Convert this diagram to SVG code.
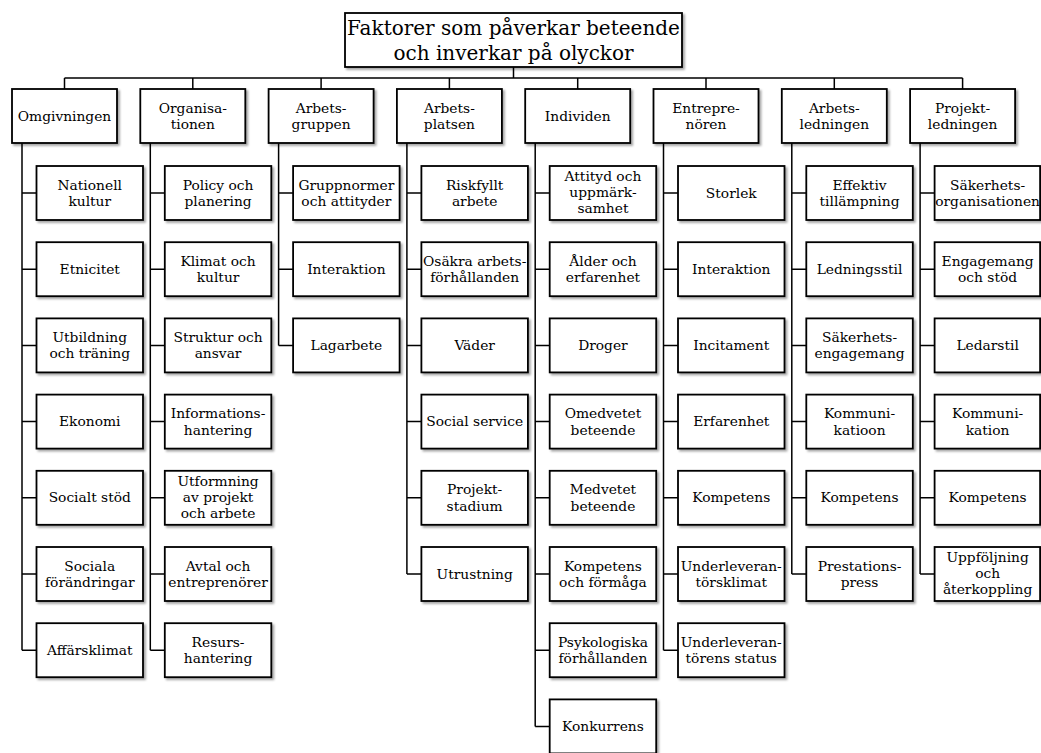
<svg xmlns="http://www.w3.org/2000/svg" width="1041" height="753" viewBox="0 0 1041 753">
<defs>
<filter id="sh" x="-10%" y="-10%" width="125%" height="130%">
<feDropShadow dx="2" dy="2" stdDeviation="1" flood-color="#000" flood-opacity="0.35"/>
</filter>
</defs>
<style>
.b{fill:#fff;stroke:#000;stroke-width:1.8;filter:url(#sh)}
text{font-family:"DejaVu Serif",serif;fill:#000;text-anchor:middle}
.t{font-size:13.8px}
.title{font-size:20px}
.c{fill:none;stroke:#000;stroke-width:1.5}
</style>
<rect width="1041" height="753" fill="#fff"/>
<g id="connectors" class="c">
<path d="M513.5 67V78M64.5 78H962.6M64.5 78V89M192.8 78V89M321.1 78V89M449.4 78V89M577.7 78V89M706 78V89M834.3 78V89M962.6 78V89"/>
<path d="M22 143V650.2M22 193H36.5M22 269.2H36.5M22 345.4H36.5M22 421.6H36.5M22 497.8H36.5M22 574H36.5M22 650.2H36.5"/>
<path d="M150.3 143V650.2M150.3 193H164.8M150.3 269.2H164.8M150.3 345.4H164.8M150.3 421.6H164.8M150.3 497.8H164.8M150.3 574H164.8M150.3 650.2H164.8"/>
<path d="M278.6 143V345.4M278.6 193H293.1M278.6 269.2H293.1M278.6 345.4H293.1"/>
<path d="M406.9 143V574M406.9 193H421.4M406.9 269.2H421.4M406.9 345.4H421.4M406.9 421.6H421.4M406.9 497.8H421.4M406.9 574H421.4"/>
<path d="M535.2 143V726.4M535.2 193H549.7M535.2 269.2H549.7M535.2 345.4H549.7M535.2 421.6H549.7M535.2 497.8H549.7M535.2 574H549.7M535.2 650.2H549.7M535.2 726.4H549.7"/>
<path d="M663.5 143V650.2M663.5 193H678M663.5 269.2H678M663.5 345.4H678M663.5 421.6H678M663.5 497.8H678M663.5 574H678M663.5 650.2H678"/>
<path d="M791.8 143V574M791.8 193H806.3M791.8 269.2H806.3M791.8 345.4H806.3M791.8 421.6H806.3M791.8 497.8H806.3M791.8 574H806.3"/>
<path d="M920.1 143V574M920.1 193H934.6M920.1 269.2H934.6M920.1 345.4H934.6M920.1 421.6H934.6M920.1 497.8H934.6M920.1 574H934.6"/>
</g>
<g id="root"><rect class="b" x="345" y="13" width="337" height="54"/><text class="title" x="513.5"><tspan x="513.5" y="35">Faktorer som påverkar beteende</tspan><tspan x="513.5" y="60">och inverkar på olyckor</tspan></text></g>
<g id="omgivningen"><rect class="b" x="12" y="89" width="105" height="54"/><text class="t" x="64.5" y="120.7">Omgivningen</text></g>
<g id="organisationen"><rect class="b" x="140.3" y="89" width="105" height="54"/><text class="t"><tspan x="192.8" y="112.5">Organisa-</tspan><tspan x="192.8" y="129">tionen</tspan></text></g>
<g id="arbetsgruppen"><rect class="b" x="268.6" y="89" width="105" height="54"/><text class="t"><tspan x="321.1" y="112.5">Arbets-</tspan><tspan x="321.1" y="129">gruppen</tspan></text></g>
<g id="arbetsplatsen"><rect class="b" x="396.9" y="89" width="105" height="54"/><text class="t"><tspan x="449.4" y="112.5">Arbets-</tspan><tspan x="449.4" y="129">platsen</tspan></text></g>
<g id="individen"><rect class="b" x="525.2" y="89" width="105" height="54"/><text class="t" x="577.7" y="120.7">Individen</text></g>
<g id="entreprenoren"><rect class="b" x="653.5" y="89" width="105" height="54"/><text class="t"><tspan x="706" y="112.5">Entrepre-</tspan><tspan x="706" y="129">nören</tspan></text></g>
<g id="arbetsledningen"><rect class="b" x="781.8" y="89" width="105" height="54"/><text class="t"><tspan x="834.3" y="112.5">Arbets-</tspan><tspan x="834.3" y="129">ledningen</tspan></text></g>
<g id="projektledningen"><rect class="b" x="910.1" y="89" width="105" height="54"/><text class="t"><tspan x="962.6" y="112.5">Projekt-</tspan><tspan x="962.6" y="129">ledningen</tspan></text></g>

<g id="c0-0"><rect class="b" x="36.5" y="166" width="106.5" height="54"/><text class="t"><tspan x="89.75" y="189.5">Nationell</tspan><tspan x="89.75" y="206">kultur</tspan></text></g>
<g id="c0-1"><rect class="b" x="36.5" y="242.2" width="106.5" height="54"/><text class="t" x="89.75" y="273.7">Etnicitet</text></g>
<g id="c0-2"><rect class="b" x="36.5" y="318.4" width="106.5" height="54"/><text class="t"><tspan x="89.75" y="341.9">Utbildning</tspan><tspan x="89.75" y="358.4">och träning</tspan></text></g>
<g id="c0-3"><rect class="b" x="36.5" y="394.6" width="106.5" height="54"/><text class="t" x="89.75" y="426.1">Ekonomi</text></g>
<g id="c0-4"><rect class="b" x="36.5" y="470.8" width="106.5" height="54"/><text class="t" x="89.75" y="502.3">Socialt stöd</text></g>
<g id="c0-5"><rect class="b" x="36.5" y="547" width="106.5" height="54"/><text class="t"><tspan x="89.75" y="570.5">Sociala</tspan><tspan x="89.75" y="587">förändringar</tspan></text></g>
<g id="c0-6"><rect class="b" x="36.5" y="623.2" width="106.5" height="54"/><text class="t" x="89.75" y="654.7">Affärsklimat</text></g>

<g id="c1-0"><rect class="b" x="164.8" y="166" width="106.5" height="54"/><text class="t"><tspan x="218.05" y="189.5">Policy och</tspan><tspan x="218.05" y="206">planering</tspan></text></g>
<g id="c1-1"><rect class="b" x="164.8" y="242.2" width="106.5" height="54"/><text class="t"><tspan x="218.05" y="265.7">Klimat och</tspan><tspan x="218.05" y="282.2">kultur</tspan></text></g>
<g id="c1-2"><rect class="b" x="164.8" y="318.4" width="106.5" height="54"/><text class="t"><tspan x="218.05" y="341.9">Struktur och</tspan><tspan x="218.05" y="358.4">ansvar</tspan></text></g>
<g id="c1-3"><rect class="b" x="164.8" y="394.6" width="106.5" height="54"/><text class="t"><tspan x="218.05" y="418.1">Informations-</tspan><tspan x="218.05" y="434.6">hantering</tspan></text></g>
<g id="c1-4"><rect class="b" x="164.8" y="470.8" width="106.5" height="54"/><text class="t"><tspan x="218.05" y="485.8">Utformning</tspan><tspan x="218.05" y="501.8">av projekt</tspan><tspan x="218.05" y="517.8">och arbete</tspan></text></g>
<g id="c1-5"><rect class="b" x="164.8" y="547" width="106.5" height="54"/><text class="t"><tspan x="218.05" y="570.5">Avtal och</tspan><tspan x="218.05" y="587">entreprenörer</tspan></text></g>
<g id="c1-6"><rect class="b" x="164.8" y="623.2" width="106.5" height="54"/><text class="t"><tspan x="218.05" y="646.7">Resurs-</tspan><tspan x="218.05" y="663.2">hantering</tspan></text></g>

<g id="c2-0"><rect class="b" x="293.1" y="166" width="106.5" height="54"/><text class="t"><tspan x="346.35" y="189.5">Gruppnormer</tspan><tspan x="346.35" y="206">och attityder</tspan></text></g>
<g id="c2-1"><rect class="b" x="293.1" y="242.2" width="106.5" height="54"/><text class="t" x="346.35" y="273.7">Interaktion</text></g>
<g id="c2-2"><rect class="b" x="293.1" y="318.4" width="106.5" height="54"/><text class="t" x="346.35" y="349.9">Lagarbete</text></g>

<g id="c3-0"><rect class="b" x="421.4" y="166" width="106.5" height="54"/><text class="t"><tspan x="474.65" y="189.5">Riskfyllt</tspan><tspan x="474.65" y="206">arbete</tspan></text></g>
<g id="c3-1"><rect class="b" x="421.4" y="242.2" width="106.5" height="54"/><text class="t"><tspan x="474.65" y="265.7">Osäkra arbets-</tspan><tspan x="474.65" y="282.2">förhållanden</tspan></text></g>
<g id="c3-2"><rect class="b" x="421.4" y="318.4" width="106.5" height="54"/><text class="t" x="474.65" y="349.9">Väder</text></g>
<g id="c3-3"><rect class="b" x="421.4" y="394.6" width="106.5" height="54"/><text class="t" x="474.65" y="426.1">Social service</text></g>
<g id="c3-4"><rect class="b" x="421.4" y="470.8" width="106.5" height="54"/><text class="t"><tspan x="474.65" y="494.3">Projekt-</tspan><tspan x="474.65" y="510.8">stadium</tspan></text></g>
<g id="c3-5"><rect class="b" x="421.4" y="547" width="106.5" height="54"/><text class="t" x="474.65" y="578.5">Utrustning</text></g>

<g id="c4-0"><rect class="b" x="549.7" y="166" width="106.5" height="54"/><text class="t"><tspan x="602.95" y="181">Attityd och</tspan><tspan x="602.95" y="197">uppmärk-</tspan><tspan x="602.95" y="213">samhet</tspan></text></g>
<g id="c4-1"><rect class="b" x="549.7" y="242.2" width="106.5" height="54"/><text class="t"><tspan x="602.95" y="265.7">Ålder och</tspan><tspan x="602.95" y="282.2">erfarenhet</tspan></text></g>
<g id="c4-2"><rect class="b" x="549.7" y="318.4" width="106.5" height="54"/><text class="t" x="602.95" y="349.9">Droger</text></g>
<g id="c4-3"><rect class="b" x="549.7" y="394.6" width="106.5" height="54"/><text class="t"><tspan x="602.95" y="418.1">Omedvetet</tspan><tspan x="602.95" y="434.6">beteende</tspan></text></g>
<g id="c4-4"><rect class="b" x="549.7" y="470.8" width="106.5" height="54"/><text class="t"><tspan x="602.95" y="494.3">Medvetet</tspan><tspan x="602.95" y="510.8">beteende</tspan></text></g>
<g id="c4-5"><rect class="b" x="549.7" y="547" width="106.5" height="54"/><text class="t"><tspan x="602.95" y="570.5">Kompetens</tspan><tspan x="602.95" y="587">och förmåga</tspan></text></g>
<g id="c4-6"><rect class="b" x="549.7" y="623.2" width="106.5" height="54"/><text class="t"><tspan x="602.95" y="646.7">Psykologiska</tspan><tspan x="602.95" y="663.2">förhållanden</tspan></text></g>
<g id="c4-7"><rect class="b" x="549.7" y="699.4" width="106.5" height="54"/><text class="t" x="602.95" y="730.9">Konkurrens</text></g>

<g id="c5-0"><rect class="b" x="678" y="166" width="106.5" height="54"/><text class="t" x="731.25" y="197.5">Storlek</text></g>
<g id="c5-1"><rect class="b" x="678" y="242.2" width="106.5" height="54"/><text class="t" x="731.25" y="273.7">Interaktion</text></g>
<g id="c5-2"><rect class="b" x="678" y="318.4" width="106.5" height="54"/><text class="t" x="731.25" y="349.9">Incitament</text></g>
<g id="c5-3"><rect class="b" x="678" y="394.6" width="106.5" height="54"/><text class="t" x="731.25" y="426.1">Erfarenhet</text></g>
<g id="c5-4"><rect class="b" x="678" y="470.8" width="106.5" height="54"/><text class="t" x="731.25" y="502.3">Kompetens</text></g>
<g id="c5-5"><rect class="b" x="678" y="547" width="106.5" height="54"/><text class="t"><tspan x="731.25" y="570.5">Underleveran-</tspan><tspan x="731.25" y="587">törsklimat</tspan></text></g>
<g id="c5-6"><rect class="b" x="678" y="623.2" width="106.5" height="54"/><text class="t"><tspan x="731.25" y="646.7">Underleveran-</tspan><tspan x="731.25" y="663.2">törens status</tspan></text></g>

<g id="c6-0"><rect class="b" x="806.3" y="166" width="106.5" height="54"/><text class="t"><tspan x="859.55" y="189.5">Effektiv</tspan><tspan x="859.55" y="206">tillämpning</tspan></text></g>
<g id="c6-1"><rect class="b" x="806.3" y="242.2" width="106.5" height="54"/><text class="t" x="859.55" y="273.7">Ledningsstil</text></g>
<g id="c6-2"><rect class="b" x="806.3" y="318.4" width="106.5" height="54"/><text class="t"><tspan x="859.55" y="341.9">Säkerhets-</tspan><tspan x="859.55" y="358.4">engagemang</tspan></text></g>
<g id="c6-3"><rect class="b" x="806.3" y="394.6" width="106.5" height="54"/><text class="t"><tspan x="859.55" y="418.1">Kommuni-</tspan><tspan x="859.55" y="434.6">katioon</tspan></text></g>
<g id="c6-4"><rect class="b" x="806.3" y="470.8" width="106.5" height="54"/><text class="t" x="859.55" y="502.3">Kompetens</text></g>
<g id="c6-5"><rect class="b" x="806.3" y="547" width="106.5" height="54"/><text class="t"><tspan x="859.55" y="570.5">Prestations-</tspan><tspan x="859.55" y="587">press</tspan></text></g>

<g id="c7-0"><rect class="b" x="934.6" y="166" width="105.5" height="54"/><text class="t"><tspan x="987.6" y="189.5">Säkerhets-</tspan><tspan x="987.6" y="206">organisationen</tspan></text></g>
<g id="c7-1"><rect class="b" x="934.6" y="242.2" width="105.5" height="54"/><text class="t"><tspan x="987.6" y="265.7">Engagemang</tspan><tspan x="987.6" y="282.2">och stöd</tspan></text></g>
<g id="c7-2"><rect class="b" x="934.6" y="318.4" width="105.5" height="54"/><text class="t" x="987.6" y="349.9">Ledarstil</text></g>
<g id="c7-3"><rect class="b" x="934.6" y="394.6" width="105.5" height="54"/><text class="t"><tspan x="987.6" y="418.1">Kommuni-</tspan><tspan x="987.6" y="434.6">kation</tspan></text></g>
<g id="c7-4"><rect class="b" x="934.6" y="470.8" width="105.5" height="54"/><text class="t" x="987.6" y="502.3">Kompetens</text></g>
<g id="c7-5"><rect class="b" x="934.6" y="547" width="105.5" height="54"/><text class="t"><tspan x="987.6" y="562">Uppföljning</tspan><tspan x="987.6" y="578">och</tspan><tspan x="987.6" y="594">återkoppling</tspan></text></g>
</svg>
